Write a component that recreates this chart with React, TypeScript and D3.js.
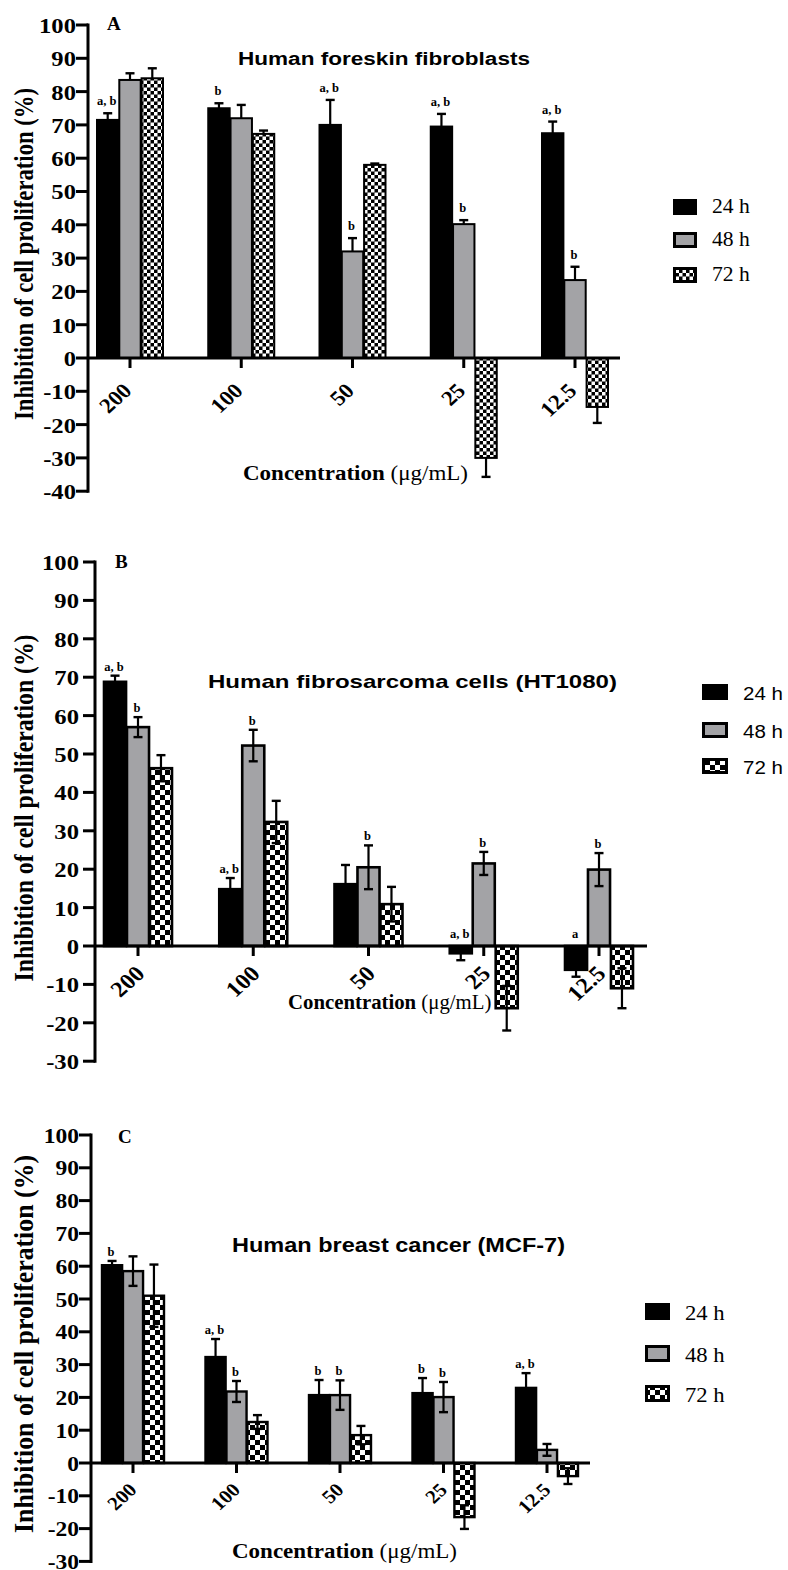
import React from "react";
import * as d3 from "d3";

const concentrations = ["200", "100", "50", "25", "12.5"];
const timePoints = ["24 h", "48 h", "72 h"];

// Panel A: Human foreskin fibroblasts
const fibro24 = [71.5, 75, 70, 69.5, 67.5];
const fibro24Err = [2, 1.5, 7.5, 3.8, 3.5];
const fibro24Sig = ["a, b", "b", "a, b", "a, b", "a, b"];
const fibro48 = [83.5, 72, 32, 40.2, 23.4];
const fibro48Err = [2, 4, 4, 1.2, 4];
const fibro48Sig = ["", "", "b", "b", "b"];
const fibro72 = [84, 67.3, 58, -30, -14.7];
const fibro72Err = [3, 1, 0.4, 5.7, 4.8];
const fibro72Sig = ["", "", "", "", ""];

// Panel B: Human fibrosarcoma cells (HT1080)
const ht24 = [68.8, 14.8, 16.1, -1.9, -6.2];
const ht24Err = [1.6, 2.9, 5, 1.8, 1.8];
const ht24Sig = ["a, b", "a, b", "", "a, b", "a"];
const ht48 = [57, 52.2, 20.5, 21.5, 19.9];
const ht48Err = [2.6, 4.1, 5.7, 3, 4.3];
const ht48Sig = ["b", "b", "b", "b", "b"];
const ht72 = [46.3, 32.3, 10.9, -16.2, -11];
const ht72Err = [3.4, 5.5, 4.5, 5.8, 5.2];
const ht72Sig = ["", "", "", "", ""];

// Panel C: Human breast cancer (MCF-7)
const mcf24 = [60.3, 32.3, 20.7, 21.3, 22.9];
const mcf24Err = [1.3, 5.5, 4.6, 4.6, 4.5];
const mcf24Sig = ["b", "a, b", "b", "b", "a, b"];
const mcf48 = [58.5, 21.8, 20.7, 20.1, 4];
const mcf48Err = [4.5, 3.2, 4.5, 4.6, 1.8];
const mcf48Sig = ["", "b", "b", "b", ""];
const mcf72 = [51, 12.5, 8.5, -16.5, -4];
const mcf72Err = [9.5, 2.1, 2.8, 3.6, 2.4];
const mcf72Sig = ["", "", "", "", ""];

const panelTitles = [
  "Human foreskin fibroblasts",
  "Human fibrosarcoma cells (HT1080)",
  "Human breast cancer (MCF-7)",
];
const panelLetters = ["A", "B", "C"];
const yAxisTitle = "Inhibition of cell proliferation (%)";

const SERIF = "'Liberation Serif', 'Times New Roman', serif";
const SANS = "'Liberation Sans', Arial, sans-serif";
const GRAY = "#a3a3a6";

type Layout = {
  axisX: number;
  yTop: number;
  yZero: number;
  yMin: number;
  xEnd: number;
  firstTick: number;
  step: number;
  groupW: number;
  letterX: number;
  letterY: number;
  titleX: number;
  titleY: number;
  titleLen: number;
  titleSize: number;
  xTitleX: number;
  xTitleY: number;
  xTitleScale: number;
  yTitleC: number;
  yTitleLen: number;
  legendX: number;
  legendY: number[];
  swW: number;
  swH: number;
  legendTextX: number;
  legendTextDy: number;
  legendFont: string;
  legendSize: number;
  tickDx: number;
  tickDy: number;
  tickFont: number;
  labelGap: number;
  yLabelGap: number;
  yTickFont: number;
  symmetric: boolean;
  cell: number;
  barStroke: number;
};

const layouts: Layout[] = [
  {
    axisX: 88, yTop: 25, yZero: 358, yMin: -40, xEnd: 620, firstTick: 130, step: 111.25, groupW: 66,
    letterX: 107, letterY: 30, titleX: 384, titleY: 65, titleLen: 292, titleSize: 18,
    xTitleX: 243, xTitleY: 480, xTitleScale: 1.15, yTitleC: 254, yTitleLen: 332,
    legendX: 673, legendY: [199, 232, 267], swW: 24, swH: 16, legendTextX: 712, legendTextDy: 14,
    legendFont: SERIF, legendSize: 20, tickDx: 3, tickDy: 34, tickFont: 21, labelGap: 11, yLabelGap: 12,
    yTickFont: 22, symmetric: false, cell: 3.5, barStroke: 2,
  },
  {
    axisX: 95, yTop: 562, yZero: 946, yMin: -30, xEnd: 647, firstTick: 138, step: 115.25, groupW: 68,
    letterX: 115, letterY: 568, titleX: 412.5, titleY: 688, titleLen: 409, titleSize: 19,
    xTitleX: 288, xTitleY: 1009, xTitleScale: 1.04, yTitleC: 808, yTitleLen: 347,
    legendX: 702, legendY: [684, 722, 758], swW: 26, swH: 16, legendTextX: 743, legendTextDy: 16,
    legendFont: SANS, legendSize: 19, tickDx: 8, tickDy: 29, tickFont: 22, labelGap: 8, yLabelGap: 16,
    yTickFont: 22, symmetric: true, cell: 5, barStroke: 2.6,
  },
  {
    axisX: 91, yTop: 1135, yZero: 1463, yMin: -30, xEnd: 590, firstTick: 133, step: 103.5, groupW: 62,
    letterX: 118, letterY: 1143, titleX: 398.5, titleY: 1252, titleLen: 333, titleSize: 20,
    xTitleX: 232, xTitleY: 1558, xTitleScale: 1.15, yTitleC: 1344, yTitleLen: 378,
    legendX: 645, legendY: [1303, 1345, 1385], swW: 25, swH: 17, legendTextX: 685, legendTextDy: 17,
    legendFont: SERIF, legendSize: 21, tickDx: 5, tickDy: 28, tickFont: 19, labelGap: 8, yLabelGap: 12,
    yTickFont: 21, symmetric: true, cell: 5, barStroke: 2.4,
  },
];

const panelValues = [
  [fibro24, fibro48, fibro72],
  [ht24, ht48, ht72],
  [mcf24, mcf48, mcf72],
];
const panelErrs = [
  [fibro24Err, fibro48Err, fibro72Err],
  [ht24Err, ht48Err, ht72Err],
  [mcf24Err, mcf48Err, mcf72Err],
];
const panelSigs = [
  [fibro24Sig, fibro48Sig, fibro72Sig],
  [ht24Sig, ht48Sig, ht72Sig],
  [mcf24Sig, mcf48Sig, mcf72Sig],
];

function Panel({ idx }: { idx: number }) {
  const p = layouts[idx];
  const values = panelValues[idx];
  const errs = panelErrs[idx];
  const sigs = panelSigs[idx];
  const pid = `chk${idx}`;
  const y = d3.scaleLinear().domain([0, 100]).range([p.yZero, p.yTop]);
  const x0 = p.firstTick - p.step / 2;
  const x = d3
    .scaleBand<string>()
    .domain(concentrations)
    .range([x0, x0 + p.step * concentrations.length]);
  const xc = (c: string) => (x(c) as number) + x.bandwidth() / 2;
  const inner = d3
    .scaleBand<string>()
    .domain(timePoints)
    .range([-p.groupW / 2, p.groupW / 2])
    .paddingInner(0.04);
  const yTicks = d3.range(p.yMin, 101, 10);
  const fills = ["#000", GRAY, `url(#${pid})`];
  const c = p.cell;

  return (
    <g>
      <defs>
        <pattern id={pid} width={2 * c} height={2 * c} patternUnits="userSpaceOnUse">
          <rect width={2 * c} height={2 * c} fill="#000" />
          <rect width={c} height={c} fill="#fff" />
          <rect x={c} y={c} width={c} height={c} fill="#fff" />
        </pattern>
      </defs>

      {/* bars */}
      {concentrations.map((conc, i) =>
        timePoints.map((tp, s) => {
          const v = values[s][i];
          const e = errs[s][i];
          const bx = xc(conc) + (inner(tp) as number);
          const bw = inner.bandwidth();
          const sign = v >= 0 ? 1 : -1;
          const top = v + sign * e;
          const bottom = p.symmetric ? v - sign * e : v;
          const cx = bx + bw / 2;
          const sig = sigs[s][i];
          const labelY = v >= 0 ? y(top) - p.labelGap + 3 : y(0) - 8;
          return (
            <g key={`${conc}-${tp}`}>
              <rect
                x={bx}
                y={Math.min(y(v), y(0))}
                width={bw}
                height={Math.abs(y(v) - y(0))}
                fill={fills[s]}
                stroke="#000"
                strokeWidth={p.barStroke}
              />
              <line x1={cx} x2={cx} y1={y(bottom)} y2={y(top)} stroke="#000" strokeWidth={2.2} />
              <line x1={cx - 4.5} x2={cx + 4.5} y1={y(top)} y2={y(top)} stroke="#000" strokeWidth={2.4} />
              {p.symmetric && (
                <line x1={cx - 4.5} x2={cx + 4.5} y1={y(bottom)} y2={y(bottom)} stroke="#000" strokeWidth={2.4} />
              )}
              {sig && (
                <text
                  x={cx - 1}
                  y={labelY}
                  textAnchor="middle"
                  fontFamily={SERIF}
                  fontWeight="bold"
                  fontSize={12.5}
                >
                  {sig}
                </text>
              )}
            </g>
          );
        })
      )}

      {/* y axis */}
      <line x1={p.axisX} x2={p.axisX} y1={y(100) - 1.5} y2={y(p.yMin) + 1.5} stroke="#000" strokeWidth={3} />
      {yTicks.map((t) => (
        <g key={t}>
          <line x1={p.axisX - 12} x2={p.axisX} y1={y(t)} y2={y(t)} stroke="#000" strokeWidth={3} />
          <text
            transform={`translate(${p.axisX - p.yLabelGap},${y(t)}) scale(1.12,1)`}
            dy="0.36em"
            textAnchor="end"
            fontFamily={SERIF}
            fontWeight="bold"
            fontSize={p.yTickFont}
          >
            {t}
          </text>
        </g>
      ))}

      {/* x axis */}
      <line x1={p.axisX} x2={p.xEnd} y1={y(0)} y2={y(0)} stroke="#000" strokeWidth={3} />
      {concentrations.map((conc) => (
        <g key={conc}>
          <line x1={xc(conc)} x2={xc(conc)} y1={y(0)} y2={y(0) + 10} stroke="#000" strokeWidth={3} />
          <text
            transform={`translate(${xc(conc) + p.tickDx},${y(0) + p.tickDy}) scale(1.1,1) rotate(-45)`}
            textAnchor="end"
            fontFamily={SERIF}
            fontWeight="bold"
            fontSize={p.tickFont}
          >
            {conc}
          </text>
        </g>
      ))}

      {/* panel letter */}
      <text x={p.letterX} y={p.letterY} fontFamily={SERIF} fontWeight="bold" fontSize={19}>
        {panelLetters[idx]}
      </text>

      {/* title */}
      <text
        x={p.titleX}
        y={p.titleY}
        textAnchor="middle"
        fontFamily={SANS}
        fontWeight="bold"
        fontSize={p.titleSize}
        textLength={p.titleLen}
        lengthAdjust="spacingAndGlyphs"
      >
        {panelTitles[idx]}
      </text>

      {/* x title */}
      <text
        transform={`translate(${p.xTitleX},${p.xTitleY}) scale(${p.xTitleScale},1)`}
        fontFamily={SERIF}
        fontSize={20}
      >
        <tspan fontWeight="bold">Concentration</tspan>
        <tspan> (μg/mL)</tspan>
      </text>

      {/* y title */}
      <text
        transform={`translate(33,${p.yTitleC}) rotate(-90)`}
        textAnchor="middle"
        fontFamily={SERIF}
        fontWeight="bold"
        fontSize={28}
        textLength={p.yTitleLen}
        lengthAdjust="spacingAndGlyphs"
      >
        {yAxisTitle}
      </text>

      {/* legend */}
      {timePoints.map((tp, s) => (
        <g key={tp}>
          <rect
            x={p.legendX + 1.5}
            y={p.legendY[s] + 1.5}
            width={p.swW - 3}
            height={p.swH - 3}
            fill={fills[s]}
            stroke="#000"
            strokeWidth={3}
          />
          <text
            transform={`translate(${p.legendTextX},${p.legendY[s] + p.legendTextDy}) scale(1.08,1)`}
            fontFamily={p.legendFont}
            fontSize={p.legendSize}
          >
            {tp}
          </text>
        </g>
      ))}
    </g>
  );
}

export default function App() {
  return (
    <svg
      width={788}
      height={1570}
      viewBox="0 0 788 1570"
      style={{ position: "absolute", left: 0, top: 0, background: "#fff" }}
    >
      <rect width={788} height={1570} fill="#fff" />
      {layouts.map((_, i) => (
        <Panel key={i} idx={i} />
      ))}
    </svg>
  );
}
